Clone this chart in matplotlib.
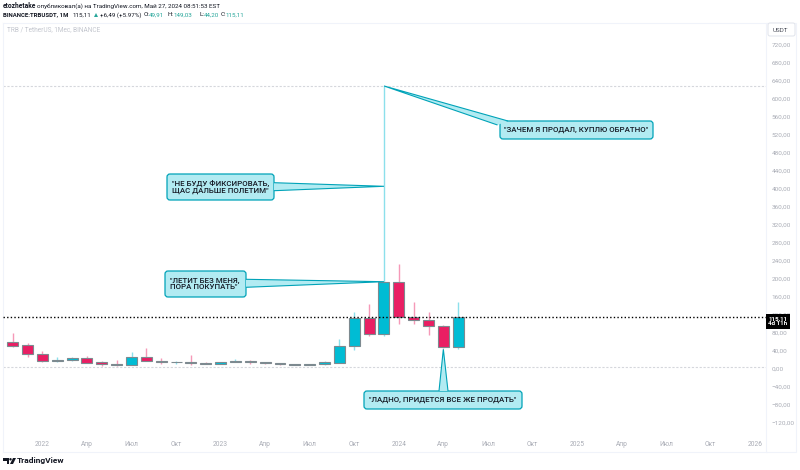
import matplotlib
matplotlib.use("Agg")
import matplotlib.pyplot as plt
from matplotlib.patches import FancyBboxPatch, Polygon, Rectangle, Circle

plt.rcParams['font.family'] = ['Roboto', 'DejaVu Sans']

# monthly candles, first one is Nov 2021
opens = [59, 52.5, 32.5, 18, 20, 25, 15, 10.5, 9.5, 26, 18.5, 15.5, 16, 14, 12, 14.5, 17.5, 15, 12.5, 10.5, 9.5, 10.5, 14, 51.5, 112.5, 78, 192.5, 115, 110, 95, 49.91]
closes = [51, 32.5, 18.5, 20, 25, 14, 10.5, 8, 26, 18.5, 15.5, 16.5, 14, 12, 14.5, 17.5, 15, 12.5, 10.5, 10, 10.5, 14.5, 51.5, 112.5, 78, 192.5, 115, 110, 95, 49, 115.11]
highs = [80, 57, 40, 26, 27, 29, 17, 20, 37.5, 46, 23.5, 18, 31, 16, 15, 21.5, 19, 16, 14, 12, 12, 17, 66.5, 126, 144, 629, 232.5, 148, 126, 97.5, 149.03]
lows = [48, 27, 16, 15.5, 17.5, 13, 7, 7.5, 8, 17, 11.5, 11.5, 9, 10.5, 11, 14.5, 11, 11.5, 9.5, 9, 8.5, 9.5, 13, 42, 73, 74, 100, 100, 76, 47, 44.2]
last_price = 115.11
high_level = 629
low_level = 5.5

price_ticks = list(range(-120, 721, 40))
time_ticks = [2, 5, 8, 11, 14, 17, 20, 23, 26, 29, 32, 35, 38, 41, 44, 47, 50]
time_labels = ['2022', 'Апр', 'Июл', 'Окт', '2023', 'Апр', 'Июл', 'Окт', '2024', 'Апр', 'Июл', 'Окт', '2025', 'Апр', 'Июл', 'Окт', '2026']

UP = '#00bcd4'
DOWN = '#e91e63'
GREY = '#a9acb5'
TEAL = '#00a3b8'
CALLOUT = '#b2ebf2'

# pixel scale of the chart, taken from the tick labels
X0, DX = 12.7, 14.85
Y0, DY = 369.0, 0.45
L, R, T, B = 3, 766, 23, 452

fig = plt.figure(figsize=(8, 4.7), dpi=100)
ax = fig.add_axes([L / 800, 1 - B / 470, (R - L) / 800, (B - T) / 470])
ax.set_xlim((L - X0) / DX, (R - X0) / DX)
ax.set_ylim((Y0 - B) / DY, (Y0 - T) / DY)

for i in range(len(opens)):
    col = UP if closes[i] >= opens[i] else DOWN
    ax.plot([i, i], [lows[i], highs[i]], color=col, lw=1, alpha=0.45, zorder=2, solid_capstyle='butt')
    ax.bar(i, abs(closes[i] - opens[i]), bottom=min(opens[i], closes[i]), width=0.74,
           color=col, edgecolor='#7d8a90', linewidth=0.8, zorder=3)

ax.axhline(high_level, color='#d5d7dc', lw=0.8, ls=(0, (2, 1.5)), zorder=1)
ax.axhline(low_level, color='#d5d7dc', lw=0.8, ls=(0, (2, 1.5)), zorder=1)
ax.axhline(last_price, color='black', lw=1, ls=(0, (1, 1.6)), zorder=4)

ax.yaxis.tick_right()
ax.set_yticks(price_ticks)
ax.set_yticklabels([f'{v},00'.replace('-', '\u2212') for v in price_ticks])
ax.set_xticks(time_ticks)
ax.set_xticklabels(time_labels)
ax.tick_params(axis='y', length=0, labelsize=4.6, labelcolor=GREY, pad=4)
ax.tick_params(axis='x', length=0, labelsize=4.8, labelcolor=GREY, pad=-8)
for s in ax.spines.values():
    s.set_color('#f0f3fa')
ax.spines['right'].set_visible(False)

# overlay in pixels for the notes, header and price label
ov = fig.add_axes([0, 0, 1, 1], facecolor='none')
ov.set_xlim(0, 800)
ov.set_ylim(470, 0)
ov.axis('off')


def px(i, v):
    return X0 + DX * i, Y0 - DY * v


def callout(box, tail, lines):
    x1, y1, x2, y2 = box
    ov.add_patch(FancyBboxPatch((x1 + 2, y1 + 2), x2 - x1 - 4, y2 - y1 - 4, boxstyle='round,pad=2,rounding_size=3',
                                fc=CALLOUT, ec=TEAL, lw=0.9, zorder=5))
    ov.add_patch(Polygon(tail, closed=False, fc=CALLOUT, ec=TEAL, lw=0.8, zorder=6))
    if '\n' in lines:
        ov.text(x1 + 5, (y1 + y2) / 2, lines, fontsize=5.7, fontweight='medium', color='#131722', ha='left',
                va='center', linespacing=1.05, zorder=7)
    else:
        ov.text((x1 + x2) / 2, (y1 + y2) / 2, lines, fontsize=5.7, fontweight='medium', color='#131722', ha='center',
                va='center', zorder=7)


tip = px(25, 629)
callout((500, 121, 653, 139), [(497.5, 125), tip, (508, 121)], '"ЗАЧЕМ Я ПРОДАЛ, КУПЛЮ ОБРАТНО"')
tip = px(25, 406)
callout((167, 174, 274, 200), [(274, 182.7), tip, (274, 190.7)], '"НЕ БУДУ ФИКСИРОВАТЬ,\nЩАС ДАЛЬШЕ ПОЛЕТИМ"')
tip = px(25, 194)
callout((165, 271, 246, 297), [(246, 279.3), tip, (246, 287.3)], '"ЛЕТИТ БЕЗ МЕНЯ,\nПОРА ПОКУПАТЬ"')
tip = px(29, 44)
callout((364, 391, 522, 409), [(439, 391), tip, (448, 391)], '"ЛАДНО, ПРИДЕТСЯ ВСЕ ЖЕ ПРОДАТЬ"')

# price scale extras
ov.add_patch(Rectangle((R, T), 30, B - T, fc='none', ec='#f0f3fa', lw=0.8, zorder=1))
ov.add_patch(FancyBboxPatch((769, 24), 25, 11, boxstyle='round,pad=1,rounding_size=2', fc='white', ec='#e0e3eb', lw=0.7, zorder=2))
ov.text(780, 30, 'USDT', fontsize=4.5, color='#4a4e59', ha='center', va='center', zorder=3)
ov.add_patch(Rectangle((766, 313.5), 24, 15.5, fc='black', ec='none', zorder=8))
ov.text(778, 321.2, '115,11\n4d 11h', fontsize=4.5, fontweight='bold', color='white', ha='center', va='center', linespacing=1.1, zorder=9)

# header
ov.text(3, 6.5, 'etozhetake', fontsize=4.8, fontweight='bold', color='#131722', va='center')
ov.text(37, 6.5, 'опубликовал(а) на TradingView.com, Май 27, 2024 08:51:53 EST', fontsize=4.5, color='#131722', va='center')
ov.text(3, 15, 'BINANCE:TRBUSDT, 1M', fontsize=4.3, fontweight='bold', color='#131722', va='center')
green = '#26a69a'
for x, s, c in [(73, '115,11', '#131722'), (100, '+6,49 (+5.97%)', '#131722'), (144, 'O:', '#131722'), (149, '49,91', green),
                (168, 'H:', '#131722'), (174, '149,03', green), (200, 'L:', '#131722'), (204, '44,20', green),
                (221, 'C:', '#131722'), (226, '115,11', green)]:
    ov.text(x, 15, s, fontsize=4.5, color=c, va='center')
ov.add_patch(Polygon([(94, 17), (96, 13), (98, 17)], fc=green, ec='none'))
ov.text(7, 29.5, 'TRB / TetherUS, 1Мес, BINANCE', fontsize=4.7, color='#c3c6ce', va='center')

# logo
ov.add_patch(Polygon([(3, 458), (9, 458), (9, 464), (6.5, 464), (6.5, 460.5), (3, 460.5)], fc='#131722', ec='none'))
ov.add_patch(Circle((10.5, 459.3), 1.2, fc='#131722', ec='none'))
ov.add_patch(Polygon([(13, 458), (16, 458), (13, 464), (10, 464)], fc='#131722', ec='none'))
ov.text(16.5, 461, 'TradingView', fontsize=6, fontweight='bold', color='#131722', va='center')

fig.savefig('out.png', dpi=100)
